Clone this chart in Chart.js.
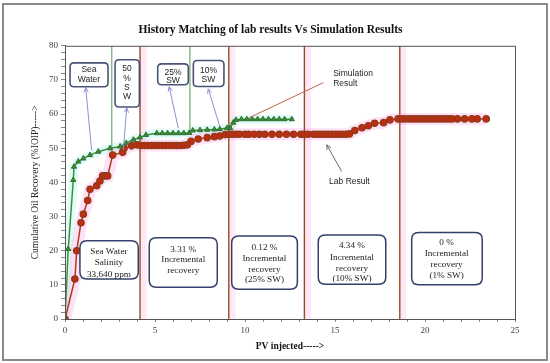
<!DOCTYPE html>
<html><head><meta charset="utf-8">
<script src="https://cdn.jsdelivr.net/npm/chart.js@4/dist/chart.umd.min.js"></script>
<style>html,body{margin:0;padding:0;background:#fff;}#wrap{width:550px;height:363px;}</style>
</head><body><div id="wrap"><canvas id="c" width="550" height="363"></canvas></div>
<script>
// ---- data ----
const labPV = [0,0.55,0.65,0.89,1.02,1.26,1.39,1.76,1.94,2.09,2.23,2.37,2.65,3.2,3.28,3.7,4.0,4.2,4.4,4.6,4.8,5.0,5.2,5.4,5.6,5.8,6.0,6.2,6.4,6.6,6.8,7.0,7.4,7.9,8.3,8.6,8.9,9.1,9.3,9.5,9.7,10.0,10.2,10.5,10.8,11.1,11.5,11.9,12.3,12.7,13.1,13.3,13.5,13.8,14.0,14.2,14.4,14.6,14.8,15.0,15.2,15.4,15.6,15.8,16.1,16.5,16.85,17.2,17.7,18.05,18.5,18.7,18.9,19.1,19.3,19.5,19.7,19.9,20.1,20.3,20.5,20.7,20.9,21.1,21.3,21.5,21.8,22.2,22.6,22.9,23.4];
const labRecovery = [0,11.7,20,28.2,30.7,34.7,38,39,40.4,41.9,41.9,41.9,48,48.8,50,50.7,51,50.8,50.8,50.8,50.8,50.8,50.8,50.8,50.8,50.8,50.8,50.8,50.8,50.9,51,52,52.7,53.1,53.4,53.6,54,54.1,54.1,54.1,54.1,54.1,54.1,54.1,54.1,54.1,54.1,54.1,54.1,54.1,54.1,54.1,54.1,54.1,54.1,54.1,54.1,54.1,54.1,54.1,54.1,54.1,54.1,54.2,55.2,56,56.6,57.3,57.5,58.3,58.6,58.6,58.6,58.6,58.6,58.6,58.6,58.6,58.6,58.6,58.6,58.6,58.6,58.6,58.6,58.6,58.6,58.6,58.6,58.6,58.6];
const simPV = [0,0.18,0.46,0.5,0.74,1.02,1.39,1.85,2.5,3.06,3.4,3.8,4.17,4.5,5.1,5.4,5.7,6.0,6.3,6.6,6.9,7.1,7.5,7.9,8.3,8.6,9.0,9.17,9.35,9.5,9.8,10.1,10.4,10.7,11.0,11.3,11.6,11.9,12.2,12.6];
const simRecovery = [0,20.5,40.7,44.6,46.1,47,48,49,50,50.5,51.5,52.5,53.2,53.9,54.4,54.4,54.4,54.4,54.4,54.4,54.5,55.2,55.3,55.4,55.5,55.6,55.9,55.9,57.5,58.3,58.5,58.5,58.5,58.5,58.5,58.5,58.5,58.5,58.5,58.5];
const brineSwitchPV = [4.17, 9.1, 13.3, 18.6];      // brown full-height lines
const simSwitchPV = [2.6, 6.94];                     // green lines
const simSwitchLow = [48.5, 54.4];
const xTicks = [0,5,10,15,20,25];
const yTicks = [0,10,20,30,40,50,60,70,80];

const SERIF = "'Liberation Serif','DejaVu Serif',serif";
const SANS = "'Liberation Sans',Arial,sans-serif";

const toPts = (xs, ys) => xs.map((x,i)=>({x, y: ys[i]}));

const datasets = [
  {label:'Simulation Result', data: toPts(simPV, simRecovery), showLine:true, borderColor:'#3f8f3f', borderWidth:1.5,
   pointStyle:'triangle', pointRadius:3, pointBackgroundColor:'#3c8c3c', pointBorderColor:'#2f6f2f', pointBorderWidth:1, order:0},
  {label:'Lab Result', data: toPts(labPV, labRecovery), showLine:true, borderColor:'#b23a18', borderWidth:1.5,
   pointStyle:'circle', pointRadius:3.2, pointBackgroundColor:'#c22a12', pointBorderColor:'#8a3e18', pointBorderWidth:1.2, order:0},
  {label:'labGlow', data: toPts(labPV, labRecovery), showLine:true, borderColor:'rgba(255,120,220,0.22)', borderWidth:12, pointRadius:0, order:3},
  {label:'simGlow', data: toPts(simPV, simRecovery), showLine:true, borderColor:'rgba(110,240,220,0.22)', borderWidth:9, pointRadius:0, order:3}
];
brineSwitchPV.forEach(v => {
  datasets.push({label:'switch', data:[{x:v,y:0},{x:v,y:80}], showLine:true, borderColor:'#9b4a1e', borderWidth:1.4, pointRadius:0, order:1});
  datasets.push({label:'band', data:[{x:v+0.2,y:0},{x:v+0.2,y:80}], showLine:true, borderColor:'rgba(255,190,235,0.35)', borderWidth:6, pointRadius:0, order:4});
});
simSwitchPV.forEach((v,i) => {
  datasets.push({label:'simswitch', data:[{x:v,y:simSwitchLow[i]},{x:v,y:80}], showLine:true, borderColor:'#62a062', borderWidth:1.1, pointRadius:0, order:1});
});

// annotations in data coordinates
const topBoxes = [
  {x0:0.28,x1:2.39,y0:75.0,y1:68.0,cx:1.33,lines:[['Sea',73.0],['Water',70.0]],arrow:[1.15,67.7,1.48,49.5]},
  {x0:2.78,x1:4.13,y0:75.9,y1:62.1,cx:3.44,lines:[['50',73.2],['%',70.3],['S',67.6],['W',65.0]],arrow:[3.43,61.8,3.24,49.5]},
  {x0:5.15,x1:6.85,y0:74.7,y1:68.6,cx:6.0,lines:[['25%',72.2],['SW',69.8]],arrow:[5.79,68.0,6.29,55.9]},
  {x0:7.13,x1:8.83,y0:75.7,y1:68.1,cx:7.97,lines:[['10%',72.8],['SW',70.2]],arrow:[7.96,67.4,8.61,56.2]}
];
const bottomBoxes = [
  {x0:0.83,x1:4.07,y0:22.9,y1:11.7,cx:2.44,lines:[['Sea Water',19.7],['Salinity',16.5],['33,640 ppm',13.1]]},
  {x0:4.68,x1:8.46,y0:23.8,y1:9.3,cx:6.57,lines:[['3.31 %',20.4],['Incremental',17.3],['recovery',14.2]]},
  {x0:9.26,x1:12.91,y0:24.3,y1:8.7,cx:11.08,lines:[['0.12 %',20.9],['Incremental',17.7],['recovery',14.6],['(25% SW)',11.4]]},
  {x0:14.07,x1:17.82,y0:24.6,y1:10.2,cx:15.94,lines:[['4.34 %',21.4],['Incremental',18.1],['recovery',14.9],['(10% SW)',11.7]]},
  {x0:19.26,x1:23.18,y0:25.3,y1:10.0,cx:21.2,lines:[['0 %',22.4],['Incremental',19.3],['recovery',15.8],['(1% SW)',12.6]]}
];

function rr(ctx,x,y,w,h,r){ctx.beginPath();ctx.moveTo(x+r,y);ctx.lineTo(x+w-r,y);ctx.quadraticCurveTo(x+w,y,x+w,y+r);ctx.lineTo(x+w,y+h-r);ctx.quadraticCurveTo(x+w,y+h,x+w-r,y+h);ctx.lineTo(x+r,y+h);ctx.quadraticCurveTo(x,y+h,x,y+h-r);ctx.lineTo(x,y+r);ctx.quadraticCurveTo(x,y,x+r,y);ctx.closePath();}
function arrow(ctx,hx,hy,tx,ty,color,head){
  ctx.strokeStyle=color;ctx.lineWidth=1;ctx.beginPath();ctx.moveTo(tx,ty);ctx.lineTo(hx,hy);ctx.stroke();
  if(head){const a=Math.atan2(hy-ty,hx-tx),L=5;ctx.beginPath();
    ctx.moveTo(hx-L*Math.cos(a-0.45),hy-L*Math.sin(a-0.45));ctx.lineTo(hx,hy);ctx.lineTo(hx-L*Math.cos(a+0.45),hy-L*Math.sin(a+0.45));ctx.stroke();}
}

const decor = {
  id:'decor',
  beforeDraw(chart){
    const c=chart.ctx;c.save();c.fillStyle='#fff';c.fillRect(0,0,chart.width,chart.height);c.restore();
  },
  afterDatasetsDraw(chart){
    const c=chart.ctx, X=chart.scales.x, Y=chart.scales.y;
    const px=v=>X.getPixelForValue(v), py=v=>Y.getPixelForValue(v);
    c.save();
    // plot border
    const a=chart.chartArea;c.strokeStyle='#555';c.lineWidth=1;c.strokeRect(a.left+0.5,a.top+0.5,a.right-a.left,a.bottom-a.top);
    // top boxes
    topBoxes.forEach(b=>{
      arrow(c,px(b.arrow[0]),py(b.arrow[1]),px(b.arrow[2]),py(b.arrow[3]),'#8c90d2',true);
      rr(c,px(b.x0),py(b.y0),px(b.x1)-px(b.x0),py(b.y1)-py(b.y0),4);
      c.fillStyle='#fff';c.fill();c.strokeStyle='#4a5378';c.lineWidth=1.6;c.stroke();
      c.fillStyle='#222';c.font='8.5px '+SANS;c.textAlign='center';c.textBaseline='middle';
      b.lines.forEach(([t,y])=>c.fillText(t,px(b.cx),py(y)));
    });
    // bottom boxes
    bottomBoxes.forEach(b=>{
      rr(c,px(b.x0),py(b.y0),px(b.x1)-px(b.x0),py(b.y1)-py(b.y0),7);
      c.fillStyle='#fff';c.fill();c.strokeStyle='#34406a';c.lineWidth=1.5;c.stroke();
      c.fillStyle='#222';c.font='9.2px '+SERIF;c.textAlign='center';c.textBaseline='middle';
      b.lines.forEach(([t,y])=>c.fillText(t,px(b.cx),py(y)));
    });
    // Simulation result label
    arrow(c,px(10.18),py(58.8),px(14.35),py(69.2),'#c0654a',false);
    c.fillStyle='#222';c.font='8.5px '+SANS;c.textAlign='left';c.textBaseline='middle';
    c.fillText('Simulation',px(14.9),py(71.7));c.fillText('Result',px(14.9),py(68.8));
    // Lab result label
    arrow(c,px(14.54),py(51.0),px(15.37),py(43.2),'#6a6a6a',true);
    c.textAlign='center';c.fillText('Lab Result',px(15.8),py(40.1));
    c.restore();
  },
  afterDraw(chart){
    const c=chart.ctx;c.save();c.strokeStyle='#8a8a8a';c.lineWidth=2;c.strokeRect(3,4,544,356);c.restore();
  }
};

new Chart(document.getElementById('c'), {
  type:'scatter',
  data:{datasets},
  options:{
    responsive:false, animation:false, devicePixelRatio:1,
    layout:{padding:{left:26,right:35,top:0,bottom:8}},
    plugins:{
      legend:{display:false}, tooltip:{enabled:false},
      title:{display:true,text:'History Matching of lab results Vs Simulation Results',color:'#111',
        font:{family:SERIF,size:11.5,weight:'bold'},padding:{top:23,bottom:9}}
    },
    scales:{
      x:{type:'linear',min:0,max:25,
        afterBuildTicks:s=>{const t=[];for(let i=0;i<=25;i++)t.push({value:i});s.ticks=t;},
        ticks:{autoSkip:false,maxRotation:0,color:'#444',font:{family:SERIF,size:9},padding:3,
          callback:v=>xTicks.includes(v)?String(v):''},
        grid:{drawOnChartArea:false,tickLength:3,color:'#888'},
        border:{color:'#555'},
        title:{display:true,text:'PV injected----->',color:'#111',font:{family:SERIF,size:9.5,weight:'bold'},padding:{top:0,bottom:3}},
        afterFit:s=>{s.height=36;}
      },
      y:{min:0,max:80,
        afterBuildTicks:s=>{const t=[];for(let i=0;i<=80;i+=2)t.push({value:i});s.ticks=t;},
        ticks:{autoSkip:false,color:'#444',font:{family:SERIF,size:9},padding:3,
          callback:v=>yTicks.includes(v)?String(v):''},
        grid:{drawOnChartArea:false,tickLength:4,color:'#888'},
        border:{color:'#555'},
        title:{display:true,text:'Cumulative Oil Recovery (%IOIP)----->',color:'#222',font:{family:SERIF,size:9.5},padding:{top:4,bottom:2}},
        afterFit:s=>{s.width=39;}
      }
    }
  },
  plugins:[decor]
});
</script></body></html>
